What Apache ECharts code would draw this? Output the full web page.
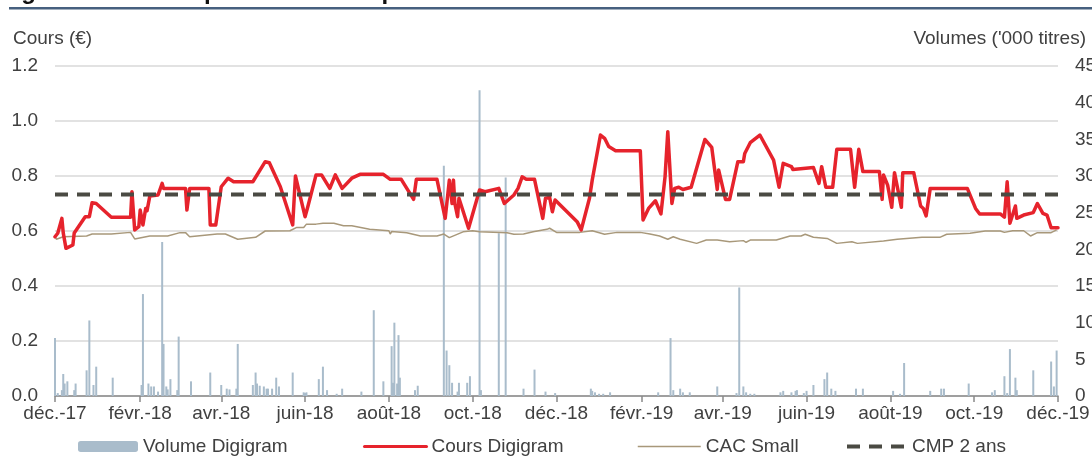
<!DOCTYPE html>
<html>
<head>
<meta charset="utf-8">
<title>Historique du cours depuis 2 ans</title>
<script src="https://cdn.jsdelivr.net/npm/echarts@6/dist/echarts.min.js"></script>
<style>
    html, body { margin: 0; padding: 0; background: #fff; }
    #main { width: 1092px; height: 457px; }
</style>
</head>
<body>
<div id="main"></div>
<script>
    // Cours Digigram (€)
    var coursDates = ['2017-12-01', '2017-12-03', '2017-12-06', '2017-12-07', '2017-12-09', '2017-12-14', '2017-12-15', '2017-12-23', '2017-12-26', '2017-12-28',
        '2017-12-31', '2018-01-11', '2018-01-25', '2018-01-26', '2018-01-28', '2018-01-31', '2018-02-01', '2018-02-03', '2018-02-05', '2018-02-06',
        '2018-02-08', '2018-02-14', '2018-02-17', '2018-02-18', '2018-03-06', '2018-03-07', '2018-03-09', '2018-03-23', '2018-03-24', '2018-03-28',
        '2018-04-01', '2018-04-06', '2018-04-10', '2018-04-24', '2018-05-03', '2018-05-06', '2018-05-14', '2018-05-23', '2018-05-25', '2018-06-01',
        '2018-06-03', '2018-06-09', '2018-06-13', '2018-06-19', '2018-06-23', '2018-06-28', '2018-07-05', '2018-07-11', '2018-07-28', '2018-08-02',
        '2018-08-10', '2018-08-19', '2018-08-21', '2018-09-05', '2018-09-11', '2018-09-14', '2018-09-16', '2018-09-17', '2018-09-18', '2018-09-20',
        '2018-09-21', '2018-09-28', '2018-10-06', '2018-10-10', '2018-10-20', '2018-10-24', '2018-10-31', '2018-11-03', '2018-11-06', '2018-11-09',
        '2018-11-15', '2018-11-21', '2018-11-23', '2018-11-26', '2018-11-28', '2018-11-30', '2018-12-16', '2018-12-19', '2018-12-25', '2018-12-27',
        '2019-01-02', '2019-01-05', '2019-01-08', '2019-01-13', '2019-01-31', '2019-02-02', '2019-02-06', '2019-02-11', '2019-02-15', '2019-02-18',
        '2019-02-20', '2019-02-23', '2019-02-25', '2019-02-28', '2019-03-03', '2019-03-09', '2019-03-19', '2019-03-24', '2019-03-28', '2019-03-29',
        '2019-04-03', '2019-04-06', '2019-04-12', '2019-04-16', '2019-04-17', '2019-04-21', '2019-04-28', '2019-05-08', '2019-05-12', '2019-05-15',
        '2019-05-21', '2019-05-22', '2019-06-06', '2019-06-10', '2019-06-12', '2019-06-15', '2019-06-20', '2019-06-23', '2019-07-03', '2019-07-06',
        '2019-07-09', '2019-07-12', '2019-07-24', '2019-07-26', '2019-07-27', '2019-07-30', '2019-08-02', '2019-08-04', '2019-08-09', '2019-08-10',
        '2019-08-18', '2019-08-23', '2019-08-25', '2019-08-27', '2019-08-30', '2019-09-26', '2019-10-02', '2019-10-05', '2019-10-20', '2019-10-23',
        '2019-10-25', '2019-10-27', '2019-10-31', '2019-11-01', '2019-11-06', '2019-11-13', '2019-11-16', '2019-11-20', '2019-11-23', '2019-11-26',
        '2019-12-01'];
    var coursValues = [0.579, 0.592, 0.646, 0.593, 0.537, 0.549, 0.593, 0.652, 0.652, 0.703,
        0.700, 0.650, 0.650, 0.743, 0.604, 0.616, 0.676, 0.622, 0.682, 0.674,
        0.727, 0.731, 0.773, 0.755, 0.755, 0.676, 0.755, 0.755, 0.622, 0.622,
        0.761, 0.792, 0.779, 0.779, 0.852, 0.848, 0.761, 0.622, 0.800, 0.652,
        0.688, 0.804, 0.804, 0.755, 0.804, 0.755, 0.792, 0.806, 0.806, 0.788,
        0.788, 0.715, 0.788, 0.788, 0.646, 0.785, 0.700, 0.785, 0.700, 0.652,
        0.719, 0.610, 0.749, 0.743, 0.755, 0.700, 0.731, 0.755, 0.797, 0.788,
        0.788, 0.646, 0.719, 0.722, 0.670, 0.713, 0.634, 0.604, 0.719, 0.785,
        0.949, 0.937, 0.907, 0.892, 0.892, 0.640, 0.682, 0.710, 0.662, 0.797,
        0.961, 0.700, 0.755, 0.759, 0.751, 0.759, 0.933, 0.904, 0.751, 0.822,
        0.715, 0.715, 0.852, 0.852, 0.882, 0.921, 0.949, 0.858, 0.759, 0.846,
        0.834, 0.824, 0.831, 0.773, 0.834, 0.759, 0.759, 0.897, 0.897, 0.759,
        0.897, 0.816, 0.816, 0.715, 0.804, 0.767, 0.686, 0.812, 0.686, 0.812,
        0.812, 0.691, 0.682, 0.655, 0.755, 0.755, 0.682, 0.662, 0.662, 0.650,
        0.779, 0.628, 0.691, 0.646, 0.658, 0.667, 0.700, 0.664, 0.658, 0.612,
        0.612];

    // CAC Small (rebasé)
    var cacDates = ['2017-12-01', '2017-12-02', '2017-12-07', '2017-12-24', '2017-12-28', '2018-01-11', '2018-01-25', '2018-01-28', '2018-02-08', '2018-02-21',
        '2018-03-02', '2018-03-06', '2018-03-09', '2018-03-29', '2018-04-04', '2018-04-13', '2018-04-26', '2018-05-03', '2018-05-21', '2018-05-26',
        '2018-05-31', '2018-06-02', '2018-06-09', '2018-06-14', '2018-06-22', '2018-06-29', '2018-07-05', '2018-07-18', '2018-08-01', '2018-08-02',
        '2018-08-03', '2018-08-14', '2018-08-24', '2018-09-05', '2018-09-10', '2018-09-14', '2018-09-24', '2018-10-01', '2018-10-06', '2018-10-26',
        '2018-10-31', '2018-11-07', '2018-11-14', '2018-11-24', '2018-11-26', '2018-12-01', '2018-12-18', '2018-12-27', '2019-01-05', '2019-01-14',
        '2019-01-31', '2019-02-01', '2019-02-07', '2019-02-14', '2019-02-20', '2019-02-24', '2019-03-01', '2019-03-13', '2019-03-20', '2019-03-28',
        '2019-04-06', '2019-04-16', '2019-04-18', '2019-04-21', '2019-05-10', '2019-05-20', '2019-05-28', '2019-05-31', '2019-06-06', '2019-06-16',
        '2019-06-23', '2019-07-04', '2019-07-08', '2019-07-27', '2019-08-06', '2019-08-24', '2019-09-06', '2019-09-11', '2019-09-28', '2019-10-09',
        '2019-10-20', '2019-10-23', '2019-10-29', '2019-11-06', '2019-11-11', '2019-11-16', '2019-11-26', '2019-11-30'];
    var cacValues = [0.582, 0.570, 0.579, 0.582, 0.589, 0.589, 0.595, 0.571, 0.582, 0.582,
        0.594, 0.594, 0.579, 0.589, 0.589, 0.570, 0.577, 0.600, 0.601, 0.613,
        0.613, 0.625, 0.625, 0.628, 0.628, 0.619, 0.619, 0.606, 0.601, 0.589,
        0.598, 0.594, 0.582, 0.582, 0.589, 0.576, 0.597, 0.601, 0.597, 0.594,
        0.588, 0.589, 0.597, 0.606, 0.610, 0.595, 0.595, 0.601, 0.588, 0.595,
        0.595, 0.600, 0.589, 0.582, 0.570, 0.579, 0.570, 0.555, 0.567, 0.567,
        0.561, 0.565, 0.559, 0.567, 0.567, 0.582, 0.582, 0.588, 0.577, 0.573,
        0.555, 0.561, 0.555, 0.564, 0.570, 0.577, 0.577, 0.588, 0.592, 0.600,
        0.600, 0.595, 0.601, 0.601, 0.582, 0.594, 0.594, 0.604];

    // Volume Digigram ('000 titres)
    var volumeDates = ['2017-12-01', '2017-12-03', '2017-12-06', '2017-12-07', '2017-12-08', '2017-12-10', '2017-12-15', '2017-12-16', '2017-12-24', '2017-12-26',
        '2017-12-29', '2017-12-31', '2018-01-12', '2018-02-02', '2018-02-03', '2018-02-07', '2018-02-09', '2018-02-11', '2018-02-14', '2018-02-17',
        '2018-02-18', '2018-02-20', '2018-02-21', '2018-02-23', '2018-02-28', '2018-03-01', '2018-03-10', '2018-03-24', '2018-04-01', '2018-04-05',
        '2018-04-07', '2018-04-12', '2018-04-13', '2018-04-24', '2018-04-26', '2018-04-27', '2018-04-29', '2018-05-02', '2018-05-04', '2018-05-05',
        '2018-05-08', '2018-05-11', '2018-05-13', '2018-05-23', '2018-05-31', '2018-06-01', '2018-06-02', '2018-06-11', '2018-06-14', '2018-06-17',
        '2018-06-24', '2018-06-28', '2018-07-12', '2018-07-21', '2018-07-28', '2018-08-03', '2018-08-04', '2018-08-05', '2018-08-07', '2018-08-08',
        '2018-08-09', '2018-08-20', '2018-08-22', '2018-09-10', '2018-09-12', '2018-09-14', '2018-09-16', '2018-09-20', '2018-09-21', '2018-09-27',
        '2018-09-29', '2018-10-06', '2018-10-07', '2018-10-20', '2018-10-25', '2018-11-07', '2018-11-15', '2018-11-23', '2018-11-30', '2018-12-26',
        '2018-12-27', '2018-12-29', '2019-01-01', '2019-01-04', '2019-01-09', '2019-02-13', '2019-02-22', '2019-02-24', '2019-03-01', '2019-03-03',
        '2019-03-08', '2019-03-28', '2019-04-11', '2019-04-13', '2019-04-16', '2019-04-18', '2019-04-21', '2019-04-24', '2019-05-13', '2019-05-15',
        '2019-05-21', '2019-05-24', '2019-05-25', '2019-05-30', '2019-06-01', '2019-06-06', '2019-06-14', '2019-06-16', '2019-06-19', '2019-06-22',
        '2019-07-07', '2019-07-12', '2019-08-03', '2019-08-08', '2019-08-11', '2019-08-30', '2019-09-07', '2019-09-09', '2019-09-27', '2019-10-14',
        '2019-10-16', '2019-10-23', '2019-10-25', '2019-10-27', '2019-10-31', '2019-11-01', '2019-11-13', '2019-11-26', '2019-11-28', '2019-11-30'];
    var volumeValues = [7.9, 0.4, 0.8, 3.0, 1.7, 2.0, 0.8, 1.7, 3.5, 10.3,
        1.5, 4.0, 2.5, 1.5, 13.9, 1.7, 1.3, 1.3, 0.6, 21.0,
        7.1, 1.3, 0.9, 2.3, 0.8, 8.1, 2.0, 3.2, 1.5, 1.0,
        0.9, 1.0, 7.1, 1.5, 3.2, 1.7, 1.4, 1.3, 1.0, 1.0,
        1.0, 2.5, 1.3, 3.2, 0.5, 0.4, 0.5, 2.3, 4.0, 0.8,
        0.3, 1.0, 0.6, 11.7, 2.0, 6.8, 1.8, 10.0, 1.7, 8.3,
        2.5, 0.8, 1.4, 31.4, 6.2, 4.2, 1.8, 0.6, 1.8, 1.8,
        2.7, 41.7, 0.8, 22.2, 29.8, 1.0, 3.6, 0.6, 0.4, 1.0,
        0.7, 0.5, 0.3, 0.3, 0.5, 0.5, 7.9, 0.8, 1.0, 0.5,
        0.5, 1.3, 0.4, 14.8, 1.3, 0.5, 0.3, 0.3, 0.5, 0.7,
        0.5, 0.7, 0.8, 0.4, 0.7, 1.5, 2.3, 3.2, 1.0, 0.7,
        1.0, 1.0, 0.7, 0.3, 4.5, 0.7, 1.0, 1.0, 1.7, 0.5,
        0.8, 2.7, 0.4, 6.4, 2.5, 0.8, 3.5, 4.7, 1.3, 6.2];

    // CMP 2 ans
    var cmpValue = 0.733;
    var periodDates = ['2017-12-01', '2019-12-01'];

    // graduations de l'axe des dates
    var tickDates = ['2017-12-01', '2018-02-01', '2018-04-01', '2018-06-01', '2018-08-01', '2018-10-01', '2018-12-01',
        '2019-02-01', '2019-04-01', '2019-06-01', '2019-08-01', '2019-10-01', '2019-12-01'];
    var moisFr = ['janv.', 'févr.', 'mars', 'avr.', 'mai', 'juin', 'juil.', 'août', 'sept.', 'oct.', 'nov.', 'déc.'];

    function toTime(s) {
        var p = s.split('-');
        return new Date(+p[0], +p[1] - 1, +p[2]).getTime();
    }

    function pairs(dates, values) {
        return dates.map(function (d, i) {
            return [toTime(d), values[i]];
        });
    }

    var font = '"Liberation Sans", Arial, sans-serif';
    var textColor = '#404040';
    var tickTimes = tickDates.map(toTime);

    var chart = echarts.init(document.getElementById('main'), null, { renderer: 'canvas' });

    var legendText = { fontFamily: font, fontSize: 19, color: textColor };
    // pas de pastille au milieu des traits de légende
    var noDot = { opacity: 0 };

    var option = {
        animation: false,
        backgroundColor: '#fff',
        grid: { left: 55, right: 34, top: 66, bottom: 61, outerBoundsMode: 'none', containLabel: false },
        graphic: [
            {
                type: 'text', left: 0, top: -20,
                style: { text: 'Figure 1 – Historique du cours depuis 2 ans', font: 'bold 24px ' + font, fill: '#111' }
            },
            {
                type: 'rect', left: 9, top: 7,
                shape: { width: 1083, height: 2.5 },
                style: { fill: '#46607f' }
            },
            {
                type: 'text', left: 13, top: 29,
                style: { text: 'Cours (€)', font: '19px ' + font, fill: textColor }
            },
            {
                type: 'text', right: 6, top: 29,
                style: { text: 'Volumes (\'000 titres)', font: '19px ' + font, fill: textColor }
            }
        ],
        legend: [
            { data: ['Volume Digigram'], left: 78, top: 437, padding: 0, itemWidth: 60, itemHeight: 11, itemGap: 0, textStyle: legendText },
            { data: ['Cours Digigram'], left: 363, top: 437, padding: 0, itemWidth: 62, itemHeight: 11, itemGap: 0, itemStyle: noDot, lineStyle: { width: 3 }, textStyle: legendText },
            { data: ['CAC Small'], left: 637, top: 437, padding: 0, itemWidth: 63, itemHeight: 11, itemGap: 0, itemStyle: noDot, lineStyle: { width: 1.5 }, textStyle: legendText },
            { data: ['CMP 2 ans'], left: 845, top: 437, padding: 0, itemWidth: 60, itemHeight: 11, itemGap: 0, itemStyle: noDot, lineStyle: { width: 4 }, textStyle: legendText }
        ],
        xAxis: {
            // dates en millisecondes, graduations posées au 1er de chaque mois pair
            type: 'value',
            min: toTime(periodDates[0]),
            max: toTime(periodDates[1]),
            axisLine: { lineStyle: { color: '#898989', width: 1.5 } },
            axisTick: { show: true, length: 6, customValues: tickTimes, lineStyle: { color: '#898989', width: 1.5 } },
            axisLabel: {
                customValues: tickTimes,
                margin: 8,
                fontFamily: font,
                fontSize: 19,
                color: textColor,
                formatter: function (v) {
                    var d = new Date(v);
                    return moisFr[d.getMonth()] + '-' + String(d.getFullYear()).slice(2);
                }
            },
            splitLine: { show: false }
        },
        yAxis: [
            {
                type: 'value',
                min: 0,
                max: 1.2,
                interval: 0.2,
                axisLine: { show: false },
                axisTick: { show: false },
                axisLabel: {
                    margin: 17, fontFamily: font, fontSize: 19, color: textColor,
                    formatter: function (v) { return v.toFixed(1); }
                },
                splitLine: { lineStyle: { color: '#d9d9d9', width: 1.5 } }
            },
            {
                type: 'value',
                min: 0,
                max: 45,
                interval: 5,
                axisLine: { show: false },
                axisTick: { show: false },
                axisLabel: { margin: 17, fontFamily: font, fontSize: 19, color: textColor },
                splitLine: { show: false }
            }
        ],
        series: [
            {
                name: 'Volume Digigram',
                type: 'bar',
                yAxisIndex: 1,
                barWidth: 2,
                itemStyle: { color: '#a9bccb' },
                data: pairs(volumeDates, volumeValues),
                z: 1
            },
            {
                name: 'Cours Digigram',
                type: 'line',
                symbol: 'none',
                itemStyle: { color: '#e6232c' },
                lineStyle: { color: '#e6232c', width: 3.5, join: 'round', cap: 'round' },
                data: pairs(coursDates, coursValues),
                z: 3
            },
            {
                name: 'CAC Small',
                type: 'line',
                symbol: 'none',
                itemStyle: { color: '#a8987a' },
                lineStyle: { color: '#a8987a', width: 1.5 },
                data: pairs(cacDates, cacValues),
                z: 2
            },
            {
                name: 'CMP 2 ans',
                type: 'line',
                symbol: 'none',
                itemStyle: { color: '#4a4a43' },
                lineStyle: { color: '#4a4a43', width: 4, type: [13, 9] },
                data: periodDates.map(function (d) { return [toTime(d), cmpValue]; }),
                z: 4
            }
        ]
    };

    chart.setOption(option);
</script>
</body>
</html>
